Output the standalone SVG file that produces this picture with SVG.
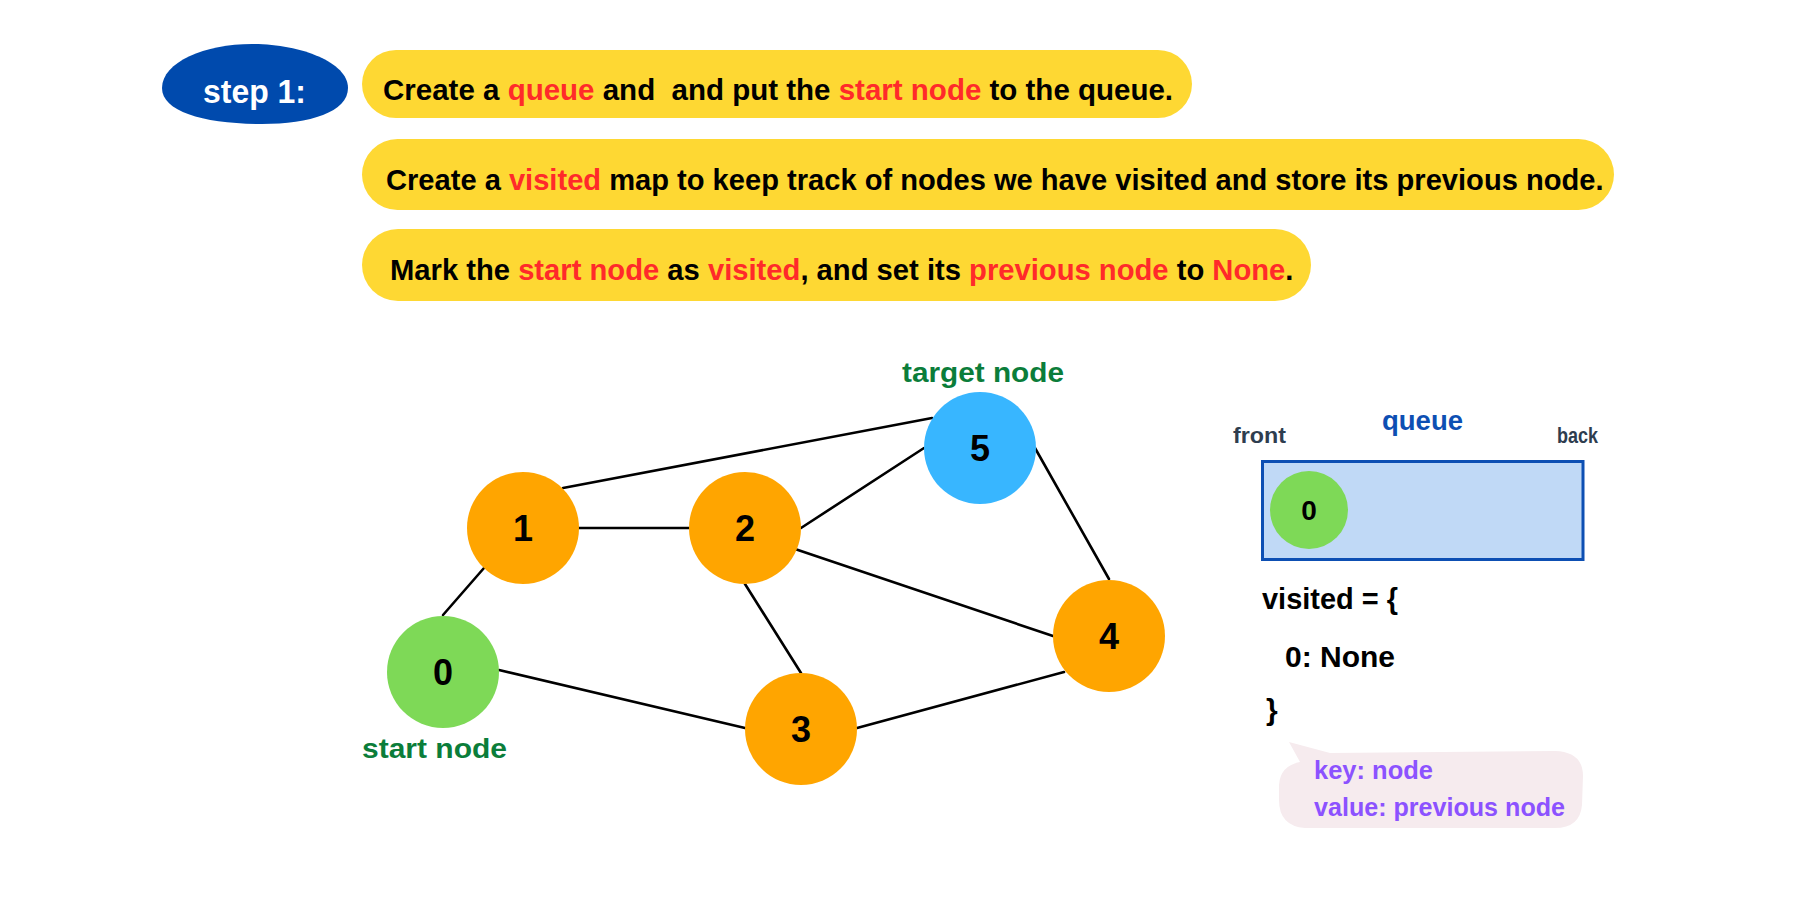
<svg xmlns="http://www.w3.org/2000/svg" width="1800" height="900" viewBox="0 0 1800 900">
<style>
  .t { font-family: "Liberation Sans", "Noto Sans", sans-serif; font-weight: bold; }
  .pill { fill: #fed833; }
  .body { fill: #000; }
  .red { fill: #ff2a2a; }
  .edge { stroke: #000; stroke-width: 2.6; stroke-linecap: round; fill: none; }
  .orange { fill: #ffa500; }
  .green { fill: #7ed957; }
  .blue { fill: #38b6ff; }
  .num { font-size: 36px; fill: #000; text-anchor: middle; }
  .lbl { font-size: 28px; fill: #0b7d3a; }
  .code { font-size: 30px; fill: #000; }
  .note { font-size: 26px; fill: #8c52ff; }
</style>
<rect width="1800" height="900" fill="#ffffff"/>

<g id="step-badge">
  <path d="M162,88 C162,62 205,44 252,44 C300,44 348,62 348,88 C348,112 310,124 262,124 C205,124 162,112 162,88 Z" fill="#004aad"/>
  <text class="t" x="203" y="103" font-size="34" fill="#ffffff" textLength="103" lengthAdjust="spacingAndGlyphs">step 1:</text>
</g>

<g id="instruction-1">
  <rect class="pill" x="362" y="50" width="830" height="68" rx="34"/>
  <text class="t body" x="383" y="100" font-size="29.5">Create a <tspan class="red">queue</tspan> and &#160;and put the <tspan class="red">start node</tspan> to the queue.</text>
</g>

<g id="instruction-2">
  <rect class="pill" x="362" y="139" width="1252" height="71" rx="35.5"/>
  <text class="t body" x="386" y="190" font-size="29.1">Create a <tspan class="red">visited</tspan> map to keep track of nodes we have visited and store its previous node.</text>
</g>

<g id="instruction-3">
  <rect class="pill" x="362" y="229" width="949" height="72" rx="36"/>
  <text class="t body" x="390" y="280" font-size="29.2">Mark the <tspan class="red">start node</tspan> as <tspan class="red">visited</tspan>, and set its <tspan class="red">previous node</tspan> to <tspan class="red">None</tspan>.</text>
</g>

<g id="connectors">
  <line class="edge" x1="443" y1="615" x2="484" y2="568"/>
  <line class="edge" x1="563" y1="488" x2="932" y2="418"/>
  <line class="edge" x1="578" y1="528" x2="689" y2="528"/>
  <line class="edge" x1="801" y1="528" x2="924" y2="448"/>
  <line class="edge" x1="795" y1="549" x2="1053" y2="636"/>
  <line class="edge" x1="745" y1="584" x2="801" y2="673"/>
  <line class="edge" x1="1035" y1="448" x2="1109" y2="579"/>
  <line class="edge" x1="499" y1="670" x2="745" y2="728"/>
  <line class="edge" x1="857" y1="728" x2="1064" y2="672"/>
</g>

<g id="node-0">
  <circle class="green" cx="443" cy="672" r="56"/>
  <text class="t num" x="443" y="685">0</text>
  <text class="t lbl" x="362" y="758" textLength="145" lengthAdjust="spacingAndGlyphs">start node</text>
</g>
<g id="node-1">
  <circle class="orange" cx="523" cy="528" r="56"/>
  <text class="t num" x="523" y="541">1</text>
</g>
<g id="node-2">
  <circle class="orange" cx="745" cy="528" r="56"/>
  <text class="t num" x="745" y="541">2</text>
</g>
<g id="node-3">
  <circle class="orange" cx="801" cy="729" r="56"/>
  <text class="t num" x="801" y="742">3</text>
</g>
<g id="node-4">
  <circle class="orange" cx="1109" cy="636" r="56"/>
  <text class="t num" x="1109" y="649">4</text>
</g>
<g id="node-5">
  <circle class="blue" cx="980" cy="448" r="56"/>
  <text class="t num" x="980" y="461">5</text>
  <text class="t lbl" x="902" y="382" textLength="162" lengthAdjust="spacingAndGlyphs">target node</text>
</g>

<g id="queue">
  <text class="t" x="1382" y="430" font-size="28" fill="#0d4fb3" textLength="81" lengthAdjust="spacingAndGlyphs">queue</text>
  <text class="t" x="1233" y="443" font-size="22" fill="#2e3d4f" textLength="53" lengthAdjust="spacingAndGlyphs">front</text>
  <text class="t" x="1557" y="443" font-size="22" fill="#2e3d4f" textLength="41" lengthAdjust="spacingAndGlyphs">back</text>
  <rect x="1262.5" y="461.5" width="320.5" height="98" fill="#c0d9f6" stroke="#0d4fb3" stroke-width="3"/>
  <circle class="green" cx="1309" cy="510" r="39"/>
  <text class="t" x="1309" y="520" font-size="28" fill="#000" text-anchor="middle">0</text>
</g>

<g id="visited">
  <text class="t code" x="1262" y="609" textLength="136" lengthAdjust="spacingAndGlyphs">visited = {</text>
  <text class="t code" x="1285" y="667" font-size="33" textLength="110" lengthAdjust="spacingAndGlyphs">0: None</text>
  <text class="t code" x="1266" y="720">}</text>
</g>

<g id="legend">
  <path d="M1289,742 L1330,753 L1555,751 Q1583,752 1583,776 L1582,805 Q1580,828 1555,828 L1305,828 Q1279,826 1279,800 L1279,785 Q1280,766 1300,762 Z" fill="#f6ebee"/>
  <text class="t note" x="1314" y="779" textLength="119" lengthAdjust="spacingAndGlyphs">key: node</text>
  <text class="t note" x="1314" y="816" textLength="251" lengthAdjust="spacingAndGlyphs">value: previous node</text>
</g>
</svg>
